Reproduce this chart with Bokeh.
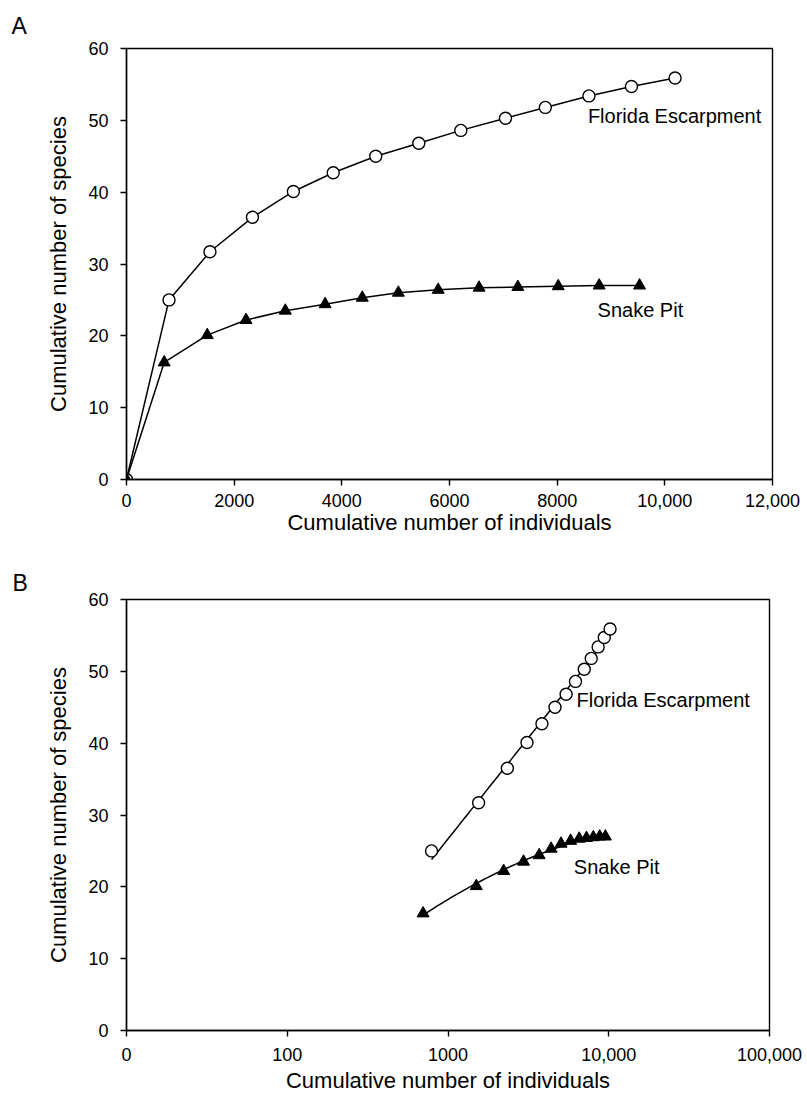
import numpy as np
from bokeh.plotting import figure
from bokeh.models import Range1d, FixedTicker, Label
from bokeh.layouts import column
from bokeh.embed import file_html
from bokeh.resources import INLINE

# ---------------- data ----------------
fe_x = [0, 790, 1550, 2340, 3100, 3840, 4630, 5430, 6210, 7040, 7780, 8590, 9380, 10190]
fe_y = [0, 25.0, 31.7, 36.5, 40.1, 42.7, 45.0, 46.8, 48.6, 50.3, 51.8, 53.4, 54.7, 55.9]
sp_x = [0, 700, 1500, 2220, 2950, 3690, 4380, 5050, 5790, 6550, 7270, 8020, 8780, 9530]
sp_y = [0, 16.3, 20.1, 22.2, 23.5, 24.4, 25.3, 26.0, 26.4, 26.7, 26.8, 26.9, 27.0, 27.0]

xa_ticks = [0, 2000, 4000, 6000, 8000, 10000, 12000]
xa_labels = ["0", "2000", "4000", "6000", "8000", "10,000", "12,000"]
xb_ticks = [10, 100, 1000, 10000, 100000]
xb_labels = ["0", "100", "1000", "10,000", "100,000"]
y_ticks = [0, 10, 20, 30, 40, 50, 60]

series_names = ["Florida Escarpment", "Snake Pit"]
panel_names = ["A", "B"]
x_title = "Cumulative number of individuals"
y_title = "Cumulative number of species"

FONT = "Liberation Sans"


def style(p, x_ticks, x_labels, lab_standoff_x, title_standoff_x, letter, letter_offset, letter_standoff):
    p.grid.visible = False
    p.background_fill_color = "white"
    p.border_fill_color = "white"
    p.outline_line_color = "black"
    p.outline_line_width = 1.4
    p.outline_line_alpha = 1.0
    for ax in p.axis:
        ax.axis_line_width = 1.4
        ax.axis_line_color = "black"
        ax.major_tick_out = 6
        ax.major_tick_in = 0
        ax.major_tick_line_width = 1.4
        ax.minor_tick_out = 0
        ax.minor_tick_in = 0
        ax.major_label_text_font = FONT
        ax.major_label_text_font_size = "18px"
        ax.major_label_text_color = "black"
        ax.axis_label_text_font = FONT
        ax.axis_label_text_font_size = "22px"
        ax.axis_label_text_font_style = "normal"
        ax.axis_label_text_color = "black"
    p.xaxis.ticker = FixedTicker(ticks=x_ticks, minor_ticks=[])
    p.xaxis.major_label_overrides = {t: l for t, l in zip(x_ticks, x_labels)}
    p.xaxis.major_label_standoff = lab_standoff_x
    p.xaxis.axis_label_standoff = title_standoff_x
    p.xaxis.axis_label = x_title
    p.yaxis.ticker = FixedTicker(ticks=y_ticks, minor_ticks=[])
    p.yaxis.major_label_standoff = 12
    p.yaxis.axis_label_standoff = 14
    p.yaxis.axis_label = y_title
    p.title.text = letter
    p.title.align = "left"
    p.title.offset = letter_offset
    p.title.standoff = letter_standoff
    p.title.text_font = FONT
    p.title.text_font_size = "23px"
    p.title.text_font_style = "normal"
    p.title.text_color = "black"


def add_name(p, x, y, text):
    p.add_layout(Label(x=x, y=y, text=text, text_font=FONT, text_color="black",
                       text_font_size="20px", text_baseline="middle", text_align="left"))


# ---------------- panel A ----------------
p1 = figure(frame_width=646, frame_height=431,
            min_border_left=125, min_border_right=34,
            min_border_top=47, min_border_bottom=80,
            x_range=Range1d(0, 12000), y_range=Range1d(0, 60),
            output_backend="svg", toolbar_location=None)
style(p1, xa_ticks, xa_labels, 8, 0, panel_names[0], -115, 20)

p1.line(fe_x, fe_y, line_color="black", line_width=1.5)
p1.line(sp_x, sp_y, line_color="black", line_width=1.5)
p1.scatter(fe_x, fe_y, marker="circle", size=12, fill_color="white",
           line_color="black", line_width=1.4)
p1.scatter(sp_x, sp_y, marker="triangle", size=12, fill_color="black",
           line_color="black", line_width=1)

add_name(p1, 8571, 50.6, series_names[0])
add_name(p1, 8751, 23.6, series_names[1])

# ---------------- panel B ----------------
p2 = figure(x_axis_type="log", frame_width=643, frame_height=431,
            min_border_left=126, min_border_right=36,
            min_border_top=40, min_border_bottom=63,
            x_range=Range1d(10, 100000), y_range=Range1d(0, 60),
            output_backend="svg", toolbar_location=None)
style(p2, xb_ticks, xb_labels, 11, 4, panel_names[1], -114, 8)

fx = np.array(fe_x[1:], dtype=float)
fy = np.array(fe_y[1:], dtype=float)
sx = np.array(sp_x[1:], dtype=float)
sy = np.array(sp_y[1:], dtype=float)

cf = np.polyfit(np.log10(fx), fy, 1)
lf = np.linspace(np.log10(fx.min()), np.log10(fx.max()), 60)
p2.line(10 ** lf, np.polyval(cf, lf), line_color="black", line_width=1.5)

cs = np.polyfit(np.log10(sx), sy, 2)
ls = np.linspace(np.log10(sx.min()), np.log10(sx.max()), 60)
p2.line(10 ** ls, np.polyval(cs, ls), line_color="black", line_width=1.5)

p2.scatter(fx, fy, marker="circle", size=12, fill_color="white",
           line_color="black", line_width=1.4)
p2.scatter(sx, sy, marker="triangle", size=12, fill_color="black",
           line_color="black", line_width=1)

add_name(p2, 6300, 46.0, series_names[0])
add_name(p2, 6067, 22.8, series_names[1])

layout = column(p1, p2)
open("out.html", "w").write(file_html(layout, INLINE))
